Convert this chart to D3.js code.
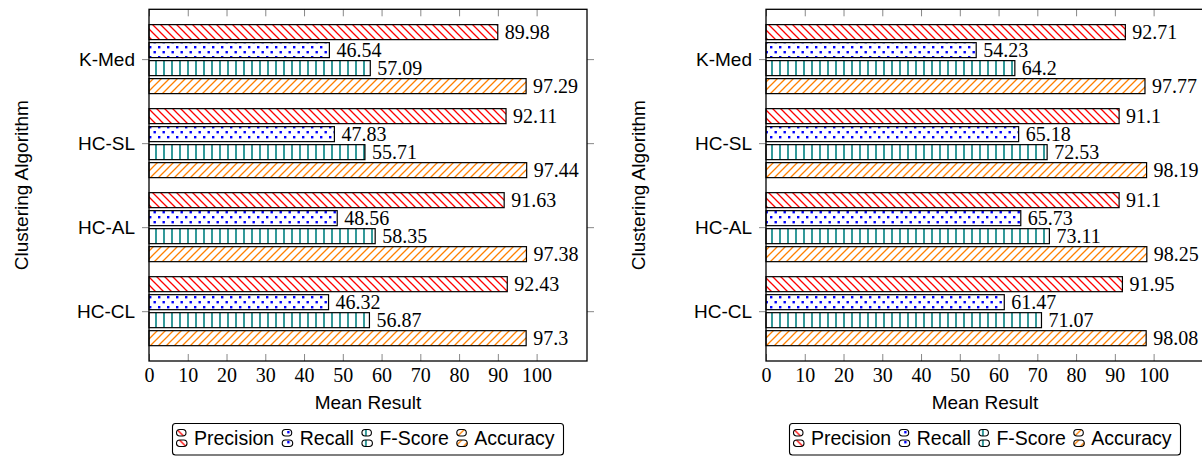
<!DOCTYPE html>
<html>
<head>
<meta charset="utf-8">
<script src="https://cdn.jsdelivr.net/npm/d3@7"></script>
<style>
  html, body { margin: 0; padding: 0; background: #fff; }
  svg { display: block; }
</style>
</head>
<body>
<svg id="chart" width="1202" height="457"></svg>
<script>
// ---------- data ----------
const categories = ["K-Med", "HC-SL", "HC-AL", "HC-CL"];
const seriesNames = ["Precision", "Recall", "F-Score", "Accuracy"];
const xTicks = [0, 10, 20, 30, 40, 50, 60, 70, 80, 90, 100];

const leftPrecision = [89.98, 92.11, 91.63, 92.43];
const leftRecall    = [46.54, 47.83, 48.56, 46.32];
const leftFScore    = [57.09, 55.71, 58.35, 56.87];
const leftAccuracy  = [97.29, 97.44, 97.38, 97.3];

const rightPrecision = [92.71, 91.1, 91.1, 91.95];
const rightRecall    = [54.23, 65.18, 65.73, 61.47];
const rightFScore    = [64.2, 72.53, 73.11, 71.07];
const rightAccuracy  = [97.77, 98.19, 98.25, 98.08];

const xAxisTitle = "Mean Result";
const yAxisTitle = "Clustering Algorithm";

// ---------- style ----------
const seriesColors = ["#ff0000", "#0000ff", "#008080", "#ff8000"];
const patternIds = ["pPrec", "pRec", "pF", "pAcc"];
const SANS = "'Liberation Sans', Arial, Helvetica, sans-serif";
const SERIF = "'Liberation Serif', 'Times New Roman', serif";
const FS = 19;
const FSL = 19.5;
const FSN = 20;

const svg = d3.select("#chart");
const defs = svg.append("defs");

// Patterns
(function () {
  let p = defs.append("pattern").attr("id", "pPrec").attr("patternUnits", "userSpaceOnUse")
    .attr("width", 8).attr("height", 8);
  p.append("path").attr("d", "M0,0 L8,8 M-2,6 L2,10 M6,-2 L10,2")
    .attr("stroke", seriesColors[0]).attr("stroke-width", 1.3).attr("fill", "none");

  p = defs.append("pattern").attr("id", "pRec").attr("patternUnits", "userSpaceOnUse")
    .attr("width", 9).attr("height", 10);
  p.append("rect").attr("x", 0.5).attr("y", 1).attr("width", 2.4).attr("height", 2.4).attr("fill", seriesColors[1]);
  p.append("rect").attr("x", 5).attr("y", 6).attr("width", 2.4).attr("height", 2.4).attr("fill", seriesColors[1]);

  p = defs.append("pattern").attr("id", "pF").attr("patternUnits", "userSpaceOnUse")
    .attr("width", 8).attr("height", 8);
  p.append("line").attr("x1", 4).attr("x2", 4).attr("y1", 0).attr("y2", 8)
    .attr("stroke", seriesColors[2]).attr("stroke-width", 1.6);

  p = defs.append("pattern").attr("id", "pAcc").attr("patternUnits", "userSpaceOnUse")
    .attr("width", 8).attr("height", 8);
  p.append("path").attr("d", "M0,8 L8,0 M-2,2 L2,-2 M6,10 L10,6")
    .attr("stroke", seriesColors[3]).attr("stroke-width", 1.3).attr("fill", "none");
})();

function drawChart(values, left, right) {
  const top = 9.3, bottom = 361;
  const g = svg.append("g");

  const x = d3.scaleLinear().domain([0, 113]).range([left, right]);
  const y = d3.scalePoint().domain(categories).range([top, bottom]).padding(0.593);
  const ySub = d3.scaleBand().domain(seriesNames).range([-36, 36]).paddingInner(1 / 6).paddingOuter(1 / 12);

  // bars
  seriesNames.forEach((s, si) => {
    const vals = values[si];
    const grp = g.append("g");
    grp.selectAll("rect").data(categories).join("rect")
      .attr("x", x(0))
      .attr("y", (c) => y(c) + ySub(s))
      .attr("width", (c, i) => x(vals[i]) - x(0))
      .attr("height", ySub.bandwidth())
      .attr("fill", "#fff");
    grp.selectAll("rect.pat").data(categories).join("rect").attr("class", "pat")
      .attr("x", x(0))
      .attr("y", (c) => y(c) + ySub(s))
      .attr("width", (c, i) => x(vals[i]) - x(0))
      .attr("height", ySub.bandwidth())
      .attr("fill", `url(#${patternIds[si]})`)
      .attr("stroke", "#000").attr("stroke-width", 1.2);
    grp.selectAll("text").data(categories).join("text")
      .attr("x", (c, i) => x(vals[i]) + 7)
      .attr("y", (c) => y(c) + ySub(s) + ySub.bandwidth() / 2 + 7)
      .style("font-family", SERIF).style("font-size", FSN + "px").attr("fill", "#000")
      .text((c, i) => vals[i]);
  });

  // bottom axis
  const xAxis = d3.axisBottom(x).tickValues(xTicks).tickSize(-7).tickPadding(7).tickFormat(d3.format("d"));
  const gx = g.append("g").attr("transform", `translate(0,${bottom})`).call(xAxis);
  gx.attr("font-size", null).attr("font-family", null);
  gx.select(".domain").remove();
  gx.selectAll(".tick line").attr("stroke", "#888").attr("stroke-width", 1);
  gx.selectAll(".tick text").style("font-family", SERIF).style("font-size", FSN + "px").attr("fill", "#000")
    .attr("dy", "0.71em");

  // top axis ticks (mirrored, inward)
  const xTop = d3.axisTop(x).tickValues(xTicks).tickSize(-7).tickFormat("");
  const gxt = g.append("g").attr("transform", `translate(0,${top})`).call(xTop);
  gxt.select(".domain").remove();
  gxt.selectAll(".tick line").attr("stroke", "#888").attr("stroke-width", 1);

  // left axis
  const yAxis = d3.axisLeft(y).tickSize(7).tickPadding(7);
  const gy = g.append("g").attr("transform", `translate(${left},0)`).call(yAxis);
  gy.attr("font-size", null).attr("font-family", null);
  gy.select(".domain").remove();
  gy.selectAll(".tick line").attr("stroke", "#888").attr("stroke-width", 1);
  gy.selectAll(".tick text").style("font-family", SANS).style("font-size", FS + "px").attr("fill", "#000");

  // right axis ticks (outward)
  const yRight = d3.axisRight(y).tickSize(7).tickFormat("");
  const gyr = g.append("g").attr("transform", `translate(${right},0)`).call(yRight);
  gyr.select(".domain").remove();
  gyr.selectAll(".tick line").attr("stroke", "#888").attr("stroke-width", 1);

  // frame
  g.append("rect").attr("x", left).attr("y", top).attr("width", right - left).attr("height", bottom - top)
    .attr("fill", "none").attr("stroke", "#000").attr("stroke-width", 1.3);

  const cx = (left + Math.min(right, left + 438)) / 2;
  // x title
  g.append("text").attr("x", cx).attr("y", 409).attr("text-anchor", "middle")
    .style("font-family", SANS).style("font-size", FS + "px").text(xAxisTitle);
  // y title
  g.append("text").attr("transform", `translate(${left - 121},${(top + bottom) / 2}) rotate(-90)`)
    .attr("text-anchor", "middle").style("font-family", SANS).style("font-size", FS + "px").text(yAxisTitle);

  // legend
  const lg = g.append("g");
  const items = [];
  const iconW = 10.5, iconGap = 7;
  seriesNames.forEach((s, si) => {
    const it = lg.append("g");
    const pills = [{ y: -15.5, w: 9.5 }, { y: -5, w: 10.5 }];
    pills.forEach((pl) => {
      it.append("rect").attr("x", 0).attr("y", pl.y).attr("width", pl.w).attr("height", 6.5).attr("rx", 3.25)
        .attr("fill", "#fff");
      it.append("rect").attr("x", 0).attr("y", pl.y).attr("width", pl.w).attr("height", 6.5).attr("rx", 3.25)
        .attr("fill", `url(#${patternIds[si]})`).attr("stroke", "#000").attr("stroke-width", 1.1);
    });
    const t = it.append("text").attr("x", iconW + iconGap).attr("y", 0)
      .style("font-family", SANS).style("font-size", FSL + "px").text(s);
    const w = iconW + iconGap + t.node().getComputedTextLength();
    items.push({ it, w });
  });
  const total = 391, padL = 4, padR = 9;
  const gap = (total - padL - padR - d3.sum(items, (d) => d.w)) / (items.length - 1);
  const x0 = cx - total / 2;
  let xx = x0 + padL;
  items.forEach((d) => {
    d.it.attr("transform", `translate(${xx},445)`);
    xx += d.w + gap;
  });
  lg.insert("rect", ":first-child").attr("x", x0).attr("y", 423.5).attr("width", total).attr("height", 31.5)
    .attr("rx", 3).attr("fill", "#fff").attr("stroke", "#000").attr("stroke-width", 1.1);
}

drawChart([leftPrecision, leftRecall, leftFScore, leftAccuracy], 149, 587);
drawChart([rightPrecision, rightRecall, rightFScore, rightAccuracy], 766, 1204);
</script>
</body>
</html>
